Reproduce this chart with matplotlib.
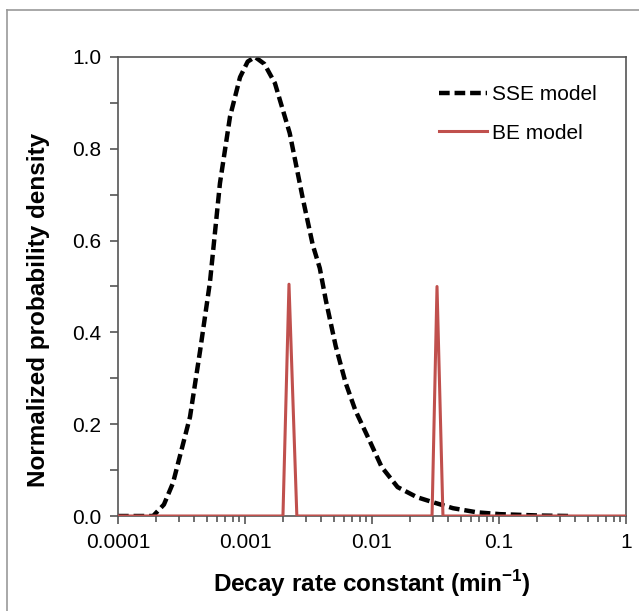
import numpy as np
import matplotlib
matplotlib.use('Agg')
import matplotlib.pyplot as plt
from matplotlib.lines import Line2D
from matplotlib.ticker import MultipleLocator, FixedLocator, NullFormatter

plt.rcParams['font.family'] = 'Liberation Sans'
plt.rcParams['font.size'] = 15
plt.rcParams['mathtext.fontset'] = 'custom'
plt.rcParams['mathtext.rm'] = 'Liberation Sans'
plt.rcParams['mathtext.bf'] = 'Liberation Sans:bold'

# SSE model (normalized density vs decay rate constant)
sse_k = [1.0e-4, 1.89e-4, 2.3e-4, 2.71e-4, 3.69e-4, 4.43e-4, 5.30e-4, 6.35e-4,
         7.62e-4, 9.14e-4, 1.05e-3, 1.20e-3, 1.42e-3, 1.72e-3, 2.25e-3, 2.86e-3,
         3.42e-3, 3.88e-3, 4.33e-3, 5.18e-3, 6.20e-3, 7.40e-3, 9.50e-3, 1.19e-2,
         1.59e-2, 2.26e-2, 3.02e-2, 4.34e-2, 6.71e-2, 0.102, 0.21, 0.36]
sse_p = [0.0, 0.0, 0.025, 0.072, 0.216, 0.36, 0.51, 0.725,
         0.87, 0.956, 0.99, 1.0, 0.985, 0.943, 0.834, 0.69,
         0.59, 0.54, 0.47, 0.37, 0.29, 0.23, 0.166, 0.107,
         0.063, 0.041, 0.030, 0.017, 0.008, 0.004, 0.001, 0.0]

# BE model: two discrete rate constants
be_k = [1.0e-4, 1.99e-3, 2.22e-3, 2.56e-3, 2.97e-2, 3.25e-2, 3.62e-2, 1.0]
be_p = [0.0, 0.0, 0.505, 0.0, 0.0, 0.50, 0.0, 0.0]

fig = plt.figure(figsize=(6.39, 6.11), dpi=100)
ax = fig.add_axes([118/639, 1 - 516/611, (626 - 118)/639, (516 - 57)/611])

ax.plot(sse_k, sse_p, color='black', lw=3.2, dashes=(2.4, 1.1),
        label='SSE model', zorder=2)
ax.plot(be_k, be_p, color='#c0504d', lw=2.2, label='BE model', zorder=3)

ax.set_xscale('log')
ax.set_xlim(1e-4, 1)
ax.set_ylim(0, 1.0)
ax.set_xticks([1e-4, 1e-3, 1e-2, 1e-1, 1])
ax.set_xticklabels(['0.0001', '0.001', '0.01', '0.1', '1'])
minors = [m * 10.0**e for e in range(-4, 0) for m in range(2, 10)]
ax.xaxis.set_minor_locator(FixedLocator(minors))
ax.xaxis.set_minor_formatter(NullFormatter())
ax.yaxis.set_major_locator(MultipleLocator(0.2))
ax.yaxis.set_minor_locator(MultipleLocator(0.1))
ax.yaxis.set_major_formatter(plt.FuncFormatter(lambda v, p: '{:.1f}'.format(v)))

for s in ax.spines.values():
    s.set_color('#555555')
    s.set_linewidth(1.2)
ax.tick_params(which='major', direction='out', length=6, width=1.2,
               color='#555555', labelsize=15, pad=6)
ax.tick_params(which='minor', direction='out', length=4, width=1.2,
               color='#555555')
ax.tick_params(axis='y', which='minor', length=6)

ax.set_xlabel('Decay rate constant (min$^{\\mathbf{-1}}$)', fontweight='bold',
              fontsize=17.5, labelpad=12)
ax.set_ylabel('Normalized probability density', fontweight='bold',
              fontsize=17.5)
ax.yaxis.set_label_coords(-0.134, 0.45)

ax.legend(loc='upper right', frameon=False, fontsize=15, handlelength=2.3,
          handletextpad=0.25, labelspacing=0.95, bbox_to_anchor=(0.98, 0.98))

# thin gray frame around the figure
fig.add_artist(Line2D([7/639, 7/639], [0, 1 - 10/611], color='#999999', lw=1.2))
fig.add_artist(Line2D([7/639, 1], [1 - 10/611, 1 - 10/611], color='#999999', lw=1.2))

fig.savefig('out.png', dpi=100)
